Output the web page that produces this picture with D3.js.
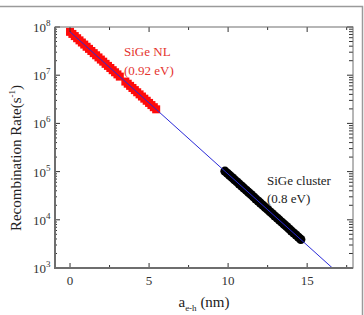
<!DOCTYPE html>
<html>
<head>
<meta charset="utf-8">
<script src="https://cdn.jsdelivr.net/npm/d3@7"></script>
<style>
    body { margin: 0; background: #fff; }
    text { font-family: "Liberation Serif", "Times New Roman", serif; }
</style>
</head>
<body>
<svg width="364" height="315"></svg>
<script>
// SiGe NL (red squares), a_e-h in nm and rate in s^-1
const nlDistance = [0, 0.15, 0.3, 0.45, 0.6, 0.75, 0.9, 1.05, 1.2, 1.35, 1.5, 1.65, 1.8, 1.95, 2.1, 2.25, 2.4, 2.55, 2.7, 2.85, 3.0, 3.15,
    3.5, 3.65, 3.8, 3.95, 4.1, 4.25, 4.4, 4.55, 4.7, 4.85, 5.0, 5.15, 5.3, 5.45]
const nlRate = [7.94e7, 7.18e7, 6.48e7, 5.85e7, 5.28e7, 4.77e7, 4.32e7, 3.89e7, 3.52e7, 3.18e7, 2.87e7, 2.59e7, 2.34e7, 2.11e7, 1.91e7, 1.72e7, 1.56e7, 1.41e7, 1.27e7, 1.15e7, 1.04e7, 9.35e6,
    7.38e6, 6.66e6, 6.01e6, 5.43e6, 4.91e6, 4.43e6, 4.00e6, 3.61e6, 3.26e6, 2.95e6, 2.66e6, 2.40e6, 2.17e6, 1.96e6]

// SiGe cluster (black circles)
const clusterDistance = [9.8, 9.95, 10.1, 10.25, 10.4, 10.55, 10.7, 10.85, 11.0, 11.15, 11.3, 11.45, 11.6, 11.75, 11.9, 12.05, 12.2,
    12.35, 12.5, 12.65, 12.8, 12.95, 13.1, 13.25, 13.4, 13.55, 13.7, 13.85, 14.0, 14.15, 14.3, 14.45, 14.6]
const clusterRate = [1.02e5, 9.22e4, 8.33e4, 7.52e4, 6.79e4, 6.13e4, 5.54e4, 5.00e4, 4.52e4, 4.08e4, 3.69e4, 3.33e4, 3.01e4, 2.71e4, 2.45e4, 2.21e4, 2.00e4,
    1.81e4, 1.63e4, 1.47e4, 1.33e4, 1.20e4, 1.09e4, 9.80e3, 8.85e3, 8.00e3, 7.22e3, 6.52e3, 5.89e3, 5.32e3, 4.81e3, 4.34e3, 3.92e3]

// fitted line, end points
const fitDistance = [0, 16.6]
const fitRate = [7.94e7, 1e3]

const xTicks = [0, 5, 10, 15]
const xMinorTicks = [2.5, 7.5, 12.5, 17.5]
const yExponents = [3, 4, 5, 6, 7, 8]

const plotLeft = 55, plotRight = 353, plotTop = 27, plotBottom = 268

const x = d3.scaleLinear().domain([-0.95, 17.9]).range([plotLeft, plotRight])
const y = d3.scaleLog().domain([1e3, 1e8]).range([plotBottom, plotTop])

const svg = d3.select("svg")

// outer frame
svg.append("path")
    .attr("d", "M0,6.5 H362.5 V315")
    .style("fill", "none")
    .style("stroke", "#9a9a9a")
    .style("stroke-width", 1.5)

svg.append("clipPath")
    .attr("id", "plotClip")
    .append("rect")
    .attr("x", plotLeft)
    .attr("y", plotTop)
    .attr("width", plotRight - plotLeft)
    .attr("height", plotBottom - plotTop)

const nlPoints = nlDistance.map((d, i) => ({x: d, rate: nlRate[i]}))
const clusterPoints = clusterDistance.map((d, i) => ({x: d, rate: clusterRate[i]}))
const fitPoints = fitDistance.map((d, i) => [d, fitRate[i]])

const plotG = svg.append("g").attr("clip-path", "url(#plotClip)")

plotG.append("g")
    .attr("id", "nlG")
    .selectAll("rect.nl")
    .data(nlPoints)
    .enter()
    .append("rect")
    .attr("class", "nl")
    .attr("x", d => x(d.x) - 4)
    .attr("y", d => y(d.rate) - 4)
    .attr("width", 8)
    .attr("height", 8)
    .style("fill", "#ff0a0a")

plotG.append("g")
    .attr("id", "clusterG")
    .selectAll("circle.cluster")
    .data(clusterPoints)
    .enter()
    .append("circle")
    .attr("class", "cluster")
    .attr("cx", d => x(d.x))
    .attr("cy", d => y(d.rate))
    .attr("r", 4.6)
    .style("fill", "#000")

const line = d3.line().x(d => x(d[0])).y(d => y(d[1]))

plotG.append("path")
    .attr("d", line(fitPoints))
    .style("fill", "none")
    .style("stroke", "#2a2ad8")
    .style("stroke-width", 1)

// axes
const axisColor = "#6e6e6e"
const tickG = svg.append("g").style("stroke", "#333").style("stroke-width", 1)

xTicks.forEach(t => {
    tickG.append("line").attr("x1", x(t)).attr("x2", x(t)).attr("y1", plotBottom).attr("y2", plotBottom - 5)
    tickG.append("line").attr("x1", x(t)).attr("x2", x(t)).attr("y1", plotTop).attr("y2", plotTop + 5)
})
xMinorTicks.forEach(t => {
    tickG.append("line").attr("x1", x(t)).attr("x2", x(t)).attr("y1", plotBottom).attr("y2", plotBottom - 3)
    tickG.append("line").attr("x1", x(t)).attr("x2", x(t)).attr("y1", plotTop).attr("y2", plotTop + 3)
})

yExponents.forEach(e => {
    const v = Math.pow(10, e)
    tickG.append("line").attr("x1", plotLeft).attr("x2", plotLeft + 5).attr("y1", y(v)).attr("y2", y(v))
    tickG.append("line").attr("x1", plotRight).attr("x2", plotRight - 6).attr("y1", y(v)).attr("y2", y(v))
    if (e < 8) {
        d3.range(2, 10).forEach(m => {
            const mv = m * v
            tickG.append("line").attr("x1", plotLeft).attr("x2", plotLeft + 2).attr("y1", y(mv)).attr("y2", y(mv))
            tickG.append("line").attr("x1", plotRight).attr("x2", plotRight - 4).attr("y1", y(mv)).attr("y2", y(mv))
        })
    }
})

svg.append("rect")
    .attr("x", plotLeft)
    .attr("y", plotTop)
    .attr("width", plotRight - plotLeft)
    .attr("height", plotBottom - plotTop)
    .style("fill", "none")
    .style("stroke", axisColor)
    .style("stroke-width", 1)

svg.append("line")
    .attr("x1", plotLeft).attr("x2", plotLeft).attr("y1", plotTop).attr("y2", plotBottom + 1)
    .style("stroke", axisColor).style("stroke-width", 2)
svg.append("line")
    .attr("x1", plotLeft - 1).attr("x2", plotRight).attr("y1", plotBottom).attr("y2", plotBottom)
    .style("stroke", axisColor).style("stroke-width", 2)

// tick labels
svg.append("g")
    .attr("id", "xLabelsG")
    .selectAll("text")
    .data(xTicks)
    .enter()
    .append("text")
    .text(d => d)
    .attr("x", d => x(d))
    .attr("y", 285)
    .style("text-anchor", "middle")
    .style("font-size", "13px")
    .style("fill", "#333")

const yLabels = svg.append("g")
    .attr("id", "yLabelsG")
    .selectAll("text")
    .data(yExponents)
    .enter()
    .append("text")
    .attr("x", 33)
    .attr("y", d => y(Math.pow(10, d)) + 5)
    .style("font-size", "13px")
    .style("fill", "#333")
yLabels.append("tspan").text("10")
yLabels.append("tspan").text(d => d).attr("dy", -6).style("font-size", "9px")

// axis titles
const yTitle = svg.append("text")
    .attr("transform", "translate(21, 158) rotate(-90)")
    .style("text-anchor", "middle")
    .style("font-size", "15px")
    .style("fill", "#222")
yTitle.append("tspan").text("Recombination Rate(s")
yTitle.append("tspan").text("-1").attr("dy", -6).style("font-size", "9px")
yTitle.append("tspan").text(")").attr("dy", 6)

const xTitle = svg.append("text")
    .attr("x", 204)
    .attr("y", 307)
    .style("text-anchor", "middle")
    .style("font-size", "15px")
    .style("fill", "#222")
xTitle.append("tspan").text("a")
xTitle.append("tspan").text("e-h").attr("dy", 4).style("font-size", "9px")
xTitle.append("tspan").text(" (nm)").attr("dy", -4)

// annotations
const notes = [
    {text: "SiGe NL", x: 124, y: 56, color: "#e5332e"},
    {text: "(0.92 eV)", x: 124, y: 75, color: "#e5332e"},
    {text: "SiGe cluster", x: 267, y: 185, color: "#222"},
    {text: "(0.8 eV)", x: 267, y: 203, color: "#222"}
]
svg.append("g")
    .selectAll("text")
    .data(notes)
    .enter()
    .append("text")
    .text(d => d.text)
    .attr("x", d => d.x)
    .attr("y", d => d.y)
    .style("font-size", "13px")
    .style("fill", d => d.color)
</script>
</body>
</html>
